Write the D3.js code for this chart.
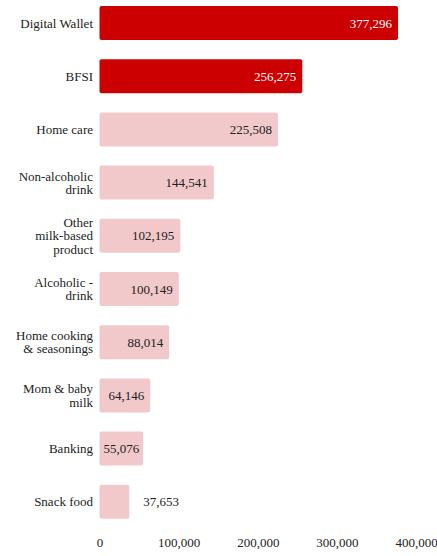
<!DOCTYPE html>
<html>
<head>
<meta charset="utf-8">
<script src="https://cdn.jsdelivr.net/npm/d3@7"></script>
<style>
  html, body { margin: 0; padding: 0; background: #ffffff; }
  svg { display: block; }
</style>
</head>
<body>
<svg id="chart" width="437" height="556"></svg>
<script>
// Category names (line breaks as shown on the axis)
const categories = [
  ["Digital Wallet"],
  ["BFSI"],
  ["Home care"],
  ["Non-alcoholic", "drink"],
  ["Other", "milk-based", "product"],
  ["Alcoholic -", "drink"],
  ["Home cooking", "& seasonings"],
  ["Mom & baby", "milk"],
  ["Banking"],
  ["Snack food"]
];
const values = [377296, 256275, 225508, 144541, 102195, 100149, 88014, 64146, 55076, 37653];
const highlighted = [true, true, false, false, false, false, false, false, false, false];
const xTicks = [0, 100000, 200000, 300000, 400000];

const FONT = "'Liberation Serif', 'Times New Roman', Times, 'DejaVu Serif', serif";
const svg = d3.select("#chart")
  .style("font-family", FONT)
  .style("font-size", "13px");
const fmt = d3.format(",");

const keys = categories.map((c, i) => i);
const x = d3.scaleLinear().domain([0, 400000]).range([99.5, 416]);
const y = d3.scaleBand().domain(keys).range([-3.6, 528.4]).paddingInner(0.36).paddingOuter(0.18);

// Bars
svg.selectAll("rect.bar")
  .data(keys)
  .join("rect")
  .attr("class", "bar")
  .attr("x", x(0))
  .attr("y", i => y(i))
  .attr("width", i => x(values[i]) - x(0))
  .attr("height", y.bandwidth())
  .attr("rx", 2)
  .attr("fill", i => highlighted[i] ? "#cc0000" : "#f2c9ca");

// Value labels: inside the bar end when they fit, otherwise centred or outside
const labels = svg.selectAll("text.value")
  .data(keys)
  .join("text")
  .attr("class", "value")
  .style("font-family", FONT)
  .style("font-size", "13px")
  .attr("y", i => y(i) + y.bandwidth() / 2)
  .attr("dy", "0.35em")
  .attr("fill", i => highlighted[i] ? "#ffffff" : "#222")
  .text(i => fmt(values[i]));

labels.each(function(i) {
  const w = this.getComputedTextLength();
  const barW = x(values[i]) - x(0);
  const end = x(values[i]);
  const sel = d3.select(this);
  if (w + 12 <= barW) {
    sel.attr("x", end - 6).attr("text-anchor", "end");
  } else if (w + 4 <= barW) {
    sel.attr("x", x(0) + barW / 2).attr("text-anchor", "middle");
  } else {
    sel.attr("x", end + 14).attr("text-anchor", "start");
  }
});

// Category axis (left), multi-line labels
const yAxis = d3.axisLeft(y).tickSize(0).tickPadding(0).tickFormat(() => "");
const yg = svg.append("g").attr("transform", "translate(93,0)").call(yAxis)
  .attr("font-family", null).attr("font-size", null);
yg.select(".domain").remove();
yg.selectAll(".tick text").remove();
yg.selectAll(".tick").each(function(i) {
  const lines = categories[i];
  const lh = 13.3;
  const t = d3.select(this).append("text")
    .attr("text-anchor", "end")
    .attr("fill", "#222")
    .style("font-family", FONT)
    .style("font-size", "13px");
  lines.forEach((ln, k) => {
    t.append("tspan")
      .attr("x", 0)
      .attr("y", (k - (lines.length - 1) / 2) * lh)
      .attr("dy", "0.35em")
      .text(ln);
  });
});

// Value axis (bottom), labels only
const xAxis = d3.axisBottom(x).tickValues(xTicks).tickSize(0).tickPadding(0).tickFormat(fmt);
const xg = svg.append("g").attr("transform", "translate(0,538)").call(xAxis)
  .attr("font-family", null).attr("font-size", null);
xg.select(".domain").remove();
xg.selectAll(".tick text")
  .attr("fill", "#222")
  .style("font-family", FONT)
  .style("font-size", "13px");
</script>
</body>
</html>
